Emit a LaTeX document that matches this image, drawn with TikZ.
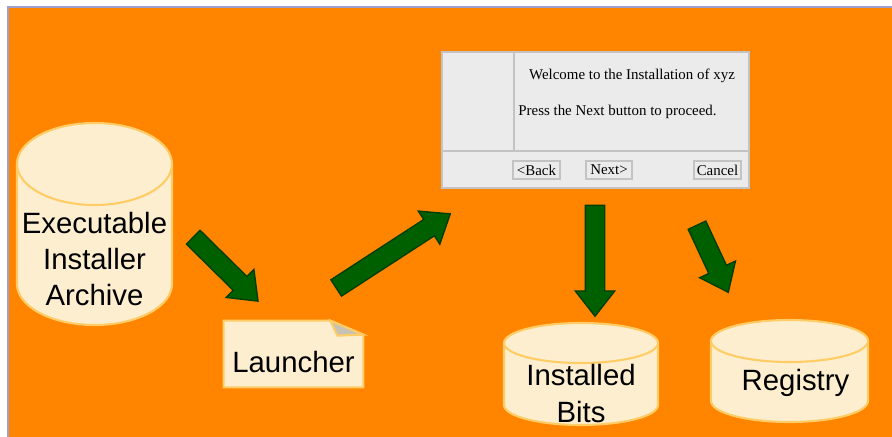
\documentclass[tikz,border=0pt]{standalone}
\usepackage{fontspec}
\setmainfont{Liberation Sans}
\newfontfamily\dlgfont{Liberation Serif}
\usepackage{tikz}
\usetikzlibrary{shapes.arrows,positioning,backgrounds,calc}
\definecolor{bgorange}{HTML}{FF8400}
\definecolor{cream}{HTML}{FDEED0}
\definecolor{creamline}{HTML}{FFCC66}
\definecolor{darkgreen}{HTML}{006000}
\definecolor{greenline}{HTML}{003F00}
\definecolor{dlgfill}{HTML}{EBEBEB}
\definecolor{dlgline}{HTML}{C3C3C3}
\definecolor{frameline}{HTML}{A0A0D0}
\definecolor{fold}{HTML}{C8C2B4}
% tank round a text node: #1 centre, #2 half width, #3 up, #4 down, #5 radius of the ends (px)
\newcommand{\tank}[5]{%
  \filldraw[Tank] ($(#1)+(-#2,#4-#5)$)
    arc[start angle=180, end angle=360, x radius=#2*0.02cm, y radius=#5*0.02cm]
    -- ($(#1)+(#2,-#3+#5)$)
    arc[start angle=0, end angle=180, x radius=#2*0.02cm, y radius=#5*0.02cm] -- cycle;
  \draw[Tank] ($(#1)+(-#2,-#3+#5)$)
    arc[start angle=180, end angle=360, x radius=#2*0.02cm, y radius=#5*0.02cm];
}

\begin{document}
\begin{tikzpicture}
  [
    x=0.02cm, y=-0.02cm,
    Tank/.style={draw=creamline, fill=cream, line width=1.2pt},
    Store/.style={align=center, inner sep=0pt, font=\fontsize{16.7}{20.7}\selectfont},
    Note/.style={rectangle, inner sep=0pt, font=\fontsize{16.7}{20.7}\selectfont},
    Arrow/.style={single arrow, draw=greenline, fill=darkgreen, line width=0.8pt, inner xsep=0pt,
      inner ysep=0.18cm, single arrow head extend=0.2cm, single arrow tip angle=76},
    Button/.style={rectangle, draw=dlgline, fill=dlgfill, line width=1.1pt, inner sep=0pt,
      minimum height=0.36cm, font=\dlgfont\fontsize{8.5}{10}\selectfont},
    Dlg/.style={inner sep=0pt, font=\dlgfont\fontsize{8.5}{10}\selectfont}
  ]
  \useasboundingbox (0,0) rectangle (892,436);
  % Nodes
  \node[Store] (archive) at (94.5,259) {Executable\\Installer\\Archive};
  \node[Note, minimum width=2.78cm, minimum height=1.32cm, text height=1.02cm, text depth=0.3cm]
    (launcher) at (293.5,354) {Launcher};
  \node[rectangle, draw=dlgline, fill=dlgfill, line width=1.1pt, inner sep=0pt,
    minimum width=6.14cm, minimum height=2.72cm] (dialog) at (595.5,120) {};
  \coordinate (split) at (514,151);
  \draw[dlgline, line width=1.1pt] (dialog.west |- split) -- (dialog.east |- split);
  \draw[dlgline, line width=1.1pt] (dialog.north -| split) -- (split);
  \node[Dlg] (welcome) at (632,76) {Welcome to the Installation of xyz};
  \node[Dlg, anchor=west] (proceed) at (518,112) {Press the Next button to proceed.};
  \node[Button, minimum width=0.94cm] (back) at (536.5,170) {<Back};
  \node[Button, minimum width=0.92cm] (next) at (609,170) {Next>};
  \node[Button, minimum width=0.94cm] (cancel) at (717.5,170) {Cancel};
  \node[Store] (bits) at (581,393.5) {Installed\\Bits};
  \node[Store] (registry) at (795.5,383) {Registry};
  \coordinate (registryTank) at (789.5,383);
  % Arrows
  \node[Arrow, minimum height=1.82cm, rotate=-44.6] (toLauncher) at (221.2,264.8) {};
  \node[Arrow, minimum height=2.72cm, rotate=33] (toDialog) at (388,254.3) {};
  \node[Arrow, minimum height=2.22cm, rotate=-90] (toBits) at (595,254.5) {};
  \node[Arrow, minimum height=1.48cm, rotate=-65] (toRegistry) at (710,253.1) {};
  % Background
  \begin{scope}[on background layer]
    \fill[white] (0,0) rectangle (892,436);
    \filldraw[fill=bgorange, draw=frameline, line width=1.1pt] (8,7) rectangle (900,445);
    \tank{archive}{77.5}{136}{66}{41}
    \tank{bits}{77}{70.5}{31.5}{20}
    \tank{registryTank}{78.5}{63}{39}{21}
    \filldraw[Tank] (launcher.north west)
      -- ([xshift=-0.66cm]launcher.north east) -- ([yshift=-0.28cm]launcher.north east)
      -- (launcher.south east) -- (launcher.south west) -- cycle;
    \filldraw[fill=fold, draw=creamline, line width=1.2pt] ([xshift=-0.66cm]launcher.north east)
      -- ([yshift=-0.28cm]launcher.north east) -- ([xshift=-0.52cm, yshift=-0.3cm]launcher.north east)
      -- cycle;
  \end{scope}
\end{tikzpicture}
\end{document}
